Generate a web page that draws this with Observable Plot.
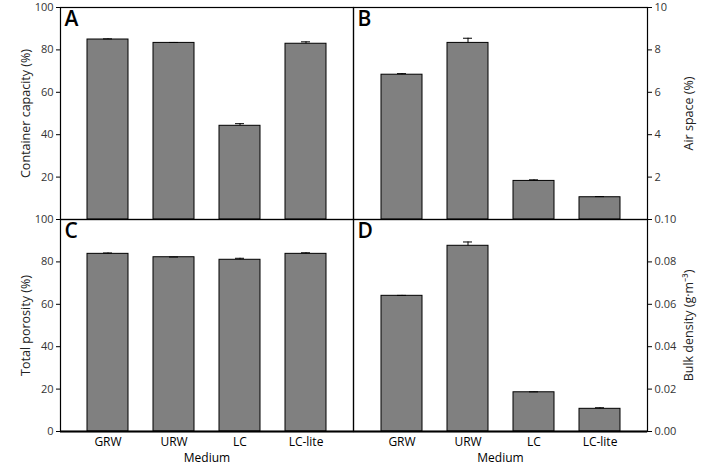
<!DOCTYPE html>
<html>
<head>
<meta charset="utf-8">
<script src="https://cdn.jsdelivr.net/npm/d3@7"></script>
<script src="https://cdn.jsdelivr.net/npm/@observablehq/plot@0.6"></script>
<style>
  html, body { margin: 0; padding: 0; background: white; overflow: hidden; }
  #wrap { position: relative; width: 720px; height: 468px; }
  #wrap > svg, #wrap > figure { position: absolute; margin: 0; }
</style>
</head>
<body>
<div id="wrap"></div>
<script>
const media = ["GRW", "URW", "LC", "LC-lite"];
const containerCapacity = [84.9, 83.3, 44.2, 82.9];
const containerCapacityErr = [0.3, 0.2, 1.0, 0.9];
const airSpace = [6.83, 8.33, 1.82, 1.05];
const airSpaceErr = [0.05, 0.22, 0.05, 0.03];
const totalPorosity = [83.8, 82.2, 81.0, 83.8];
const totalPorosityErr = [0.4, 0.1, 0.7, 0.5];
const bulkDensity = [0.064, 0.0876, 0.0185, 0.0107];
const bulkDensityErr = [0.0002, 0.0018, 0.0002, 0.0005];

const ticksPct = [0, 20, 40, 60, 80, 100];
const ticksAir = [0, 2, 4, 6, 8, 10];
const ticksBulk = [0, 0.02, 0.04, 0.06, 0.08, 0.10];

function rows(vals, errs) {
  return media.map((m, i) => ({m, v: vals[i], e: errs[i]}));
}

const wrap = document.getElementById("wrap");
const font = "'Open Sans', 'Noto Sans', sans-serif";

function panel({vals, errs, letter, yDomain, ticks, fmt, side, label, bottom, left, top}) {
  const data = rows(vals, errs);
  const isLeft = side === "left";
  const height = bottom ? 256 : 225;
  const width = isLeft ? 360 : 380;
  // in the top panels the zero label is hidden under the lower panel's top label
  const tickFormat = bottom ? fmt : (d => d === 0 ? "" : fmt(d));
  const marks = [
    Plot.barY(data, {x: "m", y: "v", fill: "#808080", stroke: "black", strokeWidth: 1}),
    Plot.ruleX(data, {x: "m", y1: "v", y2: d => d.v + d.e, stroke: "black", strokeWidth: 1}),
    Plot.tickY(data, {x: "m", y: d => d.v + d.e, insetLeft: 16, insetRight: 16, stroke: "black", strokeWidth: 1}),
    Plot.frame({stroke: "black", strokeWidth: 1.2}),
    Plot.axisY({
      anchor: side, ticks, tickFormat, tickSize: 4, tickPadding: 3,
      fill: "#333", stroke: "black", fontSize: 11, label: null
    }),
    Plot.text([label], {
      frameAnchor: isLeft ? "left" : "right", dx: isLeft ? -35 : 41,
      rotate: -90, fontSize: 12.5, fill: "#222", textAnchor: "middle"
    }),
    Plot.text([letter], {frameAnchor: "top-left", dx: 4, dy: 4, fontSize: 21, fontWeight: "600", fill: "black"})
  ];
  if (bottom) {
    marks.push(Plot.ruleY([yDomain[0]], {stroke: "black", strokeWidth: 2.2}));
    marks.push(Plot.axisX({
      anchor: "bottom", tickSize: 0, tickPadding: 6, fontSize: 12, fill: "black",
      label: "Medium", labelAnchor: "center", labelArrow: "none", labelOffset: 30
    }));
  } else {
    marks.push(Plot.axisX({ticks: [], label: null}));
  }
  const chart = Plot.plot({
    width, height,
    marginLeft: isLeft ? 60 : 13,
    marginRight: isLeft ? 7 : 73,
    marginTop: 7,
    marginBottom: bottom ? 37 : 6,
    style: {background: "transparent", fontFamily: font, fontSize: "11px", overflow: "visible"},
    x: {domain: media, paddingInner: 0.385, paddingOuter: 0.389},
    y: {domain: yDomain},
    marks
  });
  chart.style.left = left + "px";
  chart.style.top = top + "px";
  chart.style.maxWidth = "none";
  wrap.appendChild(chart);
}

panel({vals: containerCapacity, errs: containerCapacityErr, letter: "A", yDomain: [0, 100], ticks: ticksPct, fmt: d => String(d), side: "left", label: "Container capacity (%)", bottom: false, left: 0, top: 0});
panel({vals: airSpace, errs: airSpaceErr, letter: "B", yDomain: [0, 10], ticks: ticksAir, fmt: d => String(d), side: "right", label: "Air space (%)", bottom: false, left: 340, top: 0});
panel({vals: totalPorosity, errs: totalPorosityErr, letter: "C", yDomain: [0, 100], ticks: ticksPct, fmt: d => String(d), side: "left", label: "Total porosity (%)", bottom: true, left: 0, top: 212});
panel({vals: bulkDensity, errs: bulkDensityErr, letter: "D", yDomain: [0, 0.10], ticks: ticksBulk, fmt: d3.format(".2f"), side: "right", label: "Bulk density (g·m⁻³)", bottom: true, left: 340, top: 212});
</script>
</body>
</html>
